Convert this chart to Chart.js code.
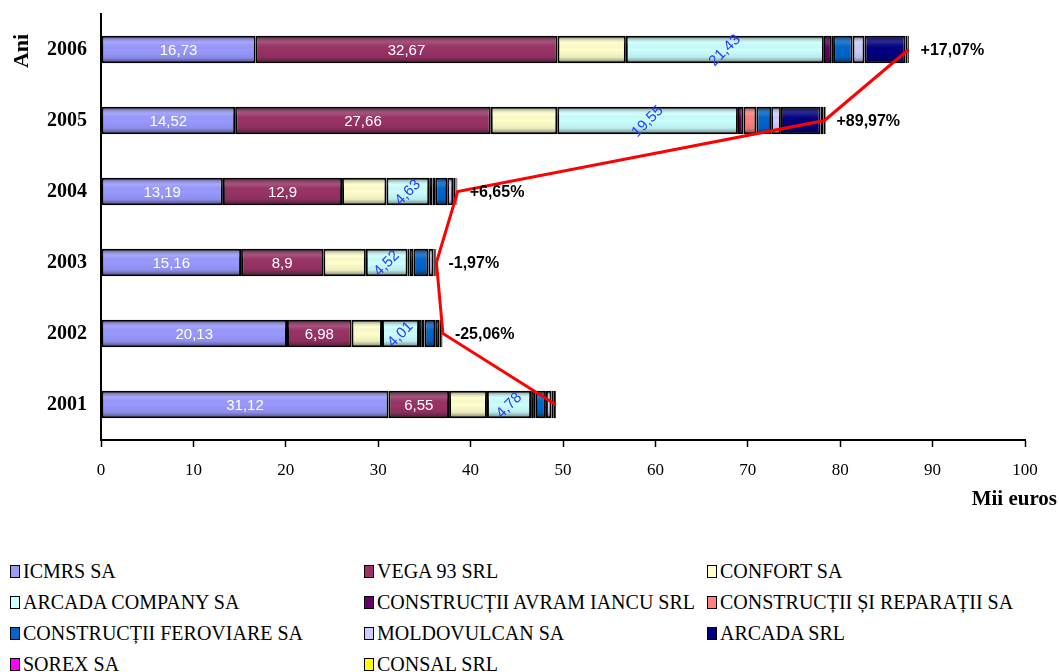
<!DOCTYPE html>
<html>
<head>
<meta charset="utf-8">
<script src="https://cdn.jsdelivr.net/npm/chart.js@4.4.1/dist/chart.umd.min.js"></script>
<style>
    body { margin: 0; background: #fff; }
    #wrap { position: relative; width: 1059px; height: 672px; }
    #chartBox { position: absolute; left: 0; top: 0; width: 1059px; height: 540px; }
    #legend {
        position: absolute; left: 10px; top: 556px;
        display: grid; grid-template-columns: 354px 343px 340px;
        grid-auto-rows: 31px;
        font-family: "Liberation Serif", "Times New Roman", serif; font-size: 20px; color: #000;
    }
    .item { display: flex; align-items: center; white-space: nowrap; }
    .box { width: 8px; height: 11px; border: 1.5px solid #000; margin-right: 3px; flex: none; }
</style>
</head>
<body>
<div id="wrap">
    <div id="chartBox"><canvas id="companyChart"></canvas></div>
    <div id="legend"></div>
</div>
<script>
// years listed top to bottom as in the picture
const years = ["2006", "2005", "2004", "2003", "2002", "2001"];

const companies = [
    "ICMRS SA", "VEGA 93 SRL", "CONFORT SA",
    "ARCADA COMPANY SA", "CONSTRUCȚII AVRAM IANCU SRL", "CONSTRUCȚII ȘI REPARAȚII SA",
    "CONSTRUCȚII FEROVIARE SA", "MOLDOVULCAN SA", "ARCADA SRL",
    "SOREX SA", "CONSAL SRL"
];
const companyColors = [
    "#9999FF", "#993366", "#FFFFCC",
    "#CCFFFF", "#660066", "#FF8080",
    "#0066CC", "#CCCCFF", "#000080",
    "#FF00FF", "#FFFF00"
];

// values in thousands of euros
const icmrs = [16.73, 14.52, 13.19, 15.16, 20.13, 31.12];
const vega = [32.67, 27.66, 12.9, 8.9, 6.98, 6.55];
const confort = [7.4, 7.2, 4.8, 4.6, 3.3, 4.1];
const arcadaCompany = [21.43, 19.55, 4.63, 4.52, 4.01, 4.78];
const avramIancu = [0.8, 0.6, 0.35, 0.2, 0.3, 0.3];
const reparatii = [0.2, 1.4, 0.3, 0.45, 0.3, 0.2];
const feroviare = [2.1, 1.6, 1.3, 1.6, 1.15, 1.1];
const moldovulcan = [1.3, 1.05, 0.65, 0.55, 0.45, 0.6];
const arcadaSrl = [4.45, 4.3, 0.25, 0.15, 0.2, 0.25];
const sorex = [0.2, 0.3, 0.1, 0.1, 0.1, 0.15];
const consal = [0.15, 0.25, 0.1, 0.05, 0.05, 0.1];

// total line and its growth labels
const totals = [87.4, 78.3, 38.6, 36.3, 37.0, 49.2];
const growthLabels = ["+17,07%", "+89,97%", "+6,65%", "-1,97%", "-25,06%", ""];

const xTicks = [0, 10, 20, 30, 40, 50, 60, 70, 80, 90, 100];

const seriesValues = [icmrs, vega, confort, arcadaCompany, avramIancu, reparatii,
    feroviare, moldovulcan, arcadaSrl, sorex, consal];

const serif = '"Liberation Serif", "Times New Roman", serif';
const sans = '"Liberation Sans", Arial, sans-serif';

// Build the legend as html, three columns
const legendEl = document.getElementById("legend");
companies.forEach((name, i) => {
    const item = document.createElement("div");
    item.className = "item";
    item.innerHTML = `<span class="box" style="background:${companyColors[i]}"></span><span>${name}</span>`;
    legendEl.appendChild(item);
});

// Shading on each bar, darker at top and bottom edges
const barShade = {
    id: "barShade",
    afterDatasetDraw(chart, args) {
        if (args.meta.type !== "bar") return;
        const ctx = chart.ctx;
        args.meta.data.forEach(bar => {
            const p = bar.getProps(["x", "y", "base", "height"], true);
            const left = Math.min(p.x, p.base) + 1;
            const w = Math.abs(p.x - p.base) - 2;
            if (w <= 0) return;
            const top = p.y - p.height / 2 + 1;
            const h = p.height - 2;
            const g = ctx.createLinearGradient(0, top, 0, top + h);
            g.addColorStop(0, "rgba(0,0,0,0.45)");
            g.addColorStop(0.25, "rgba(255,255,255,0.12)");
            g.addColorStop(0.5, "rgba(0,0,0,0)");
            g.addColorStop(0.8, "rgba(0,0,0,0.08)");
            g.addColorStop(1, "rgba(0,0,0,0.45)");
            ctx.save();
            ctx.fillStyle = g;
            ctx.fillRect(left, top, w, h);
            ctx.restore();
        });
    }
};

// Value labels, growth labels and axis captions
const textLabels = {
    id: "textLabels",
    afterDatasetsDraw(chart) {
        const ctx = chart.ctx;
        ctx.save();
        ctx.textAlign = "center";
        ctx.textBaseline = "middle";

        [0, 1, 3].forEach(di => {
            const meta = chart.getDatasetMeta(di);
            meta.data.forEach((bar, j) => {
                const p = bar.getProps(["x", "y", "base"], true);
                const cx = (p.x + p.base) / 2;
                const txt = String(seriesValues[di][j]).replace(".", ",");
                ctx.save();
                ctx.translate(cx, p.y + 1);
                if (di === 3) {
                    ctx.rotate(-Math.PI / 4);
                    ctx.fillStyle = "#2040FF";
                } else {
                    ctx.fillStyle = "#FFFFFF";
                }
                ctx.font = "15px " + sans;
                ctx.fillText(txt, 0, 0);
                ctx.restore();
            });
        });

        const lineMeta = chart.getDatasetMeta(11);
        ctx.textAlign = "left";
        ctx.fillStyle = "#000";
        ctx.font = "bold 16px " + sans;
        lineMeta.data.forEach((pt, j) => {
            if (growthLabels[j]) ctx.fillText(growthLabels[j], pt.x + 12, pt.y + 1);
        });

        // axis captions
        ctx.font = "bold 21px " + serif;
        ctx.textAlign = "right";
        ctx.fillText("Mii euros", 1057, 500);
        ctx.save();
        ctx.translate(22, 51);
        ctx.rotate(-Math.PI / 2);
        ctx.textAlign = "center";
        ctx.font = "bold 22px " + serif;
        ctx.fillText("Ani", 0, 0);
        ctx.restore();
        ctx.restore();
    }
};

const datasets = companies.map((name, i) => ({
    type: "bar",
    label: name,
    data: seriesValues[i],
    backgroundColor: companyColors[i],
    borderColor: "#000",
    borderWidth: 2,
    borderSkipped: false,
    barPercentage: 0.39,
    categoryPercentage: 1,
    order: 1
}));

datasets.push({
    type: "line",
    label: "Total",
    data: totals,
    borderColor: "#FF0000",
    borderWidth: 3,
    pointRadius: 0,
    tension: 0,
    stack: "total",
    order: 0
});

new Chart(document.getElementById("companyChart"), {
    data: { labels: years, datasets: datasets },
    options: {
        indexAxis: "y",
        responsive: true,
        maintainAspectRatio: false,
        animation: false,
        layout: { padding: { top: 14, right: 34, left: 0, bottom: 0 } },
        plugins: {
            legend: { display: false },
            tooltip: { enabled: false }
        },
        scales: {
            x: {
                stacked: true,
                min: 0,
                max: 100,
                afterBuildTicks: scale => { scale.ticks = xTicks.map(v => ({ value: v })); },
                afterFit: scale => { scale.height = 100; },
                border: { color: "#000", width: 2 },
                grid: { drawOnChartArea: false, drawTicks: true, tickLength: 7, tickColor: "#000", tickWidth: 1.5 },
                ticks: { color: "#000", padding: 13, font: { family: serif, size: 17 }, maxRotation: 0 }
            },
            y: {
                stacked: true,
                afterFit: scale => {
                    scale.width = 101;
                    scale.paddingTop = 0;
                    scale.paddingBottom = 0;
                },
                border: { color: "#000", width: 2 },
                grid: { display: false, drawTicks: false },
                ticks: { color: "#000", padding: 14, font: { family: serif, size: 20, weight: "bold" } }
            }
        }
    },
    plugins: [barShade, textLabels]
});
</script>
</body>
</html>
